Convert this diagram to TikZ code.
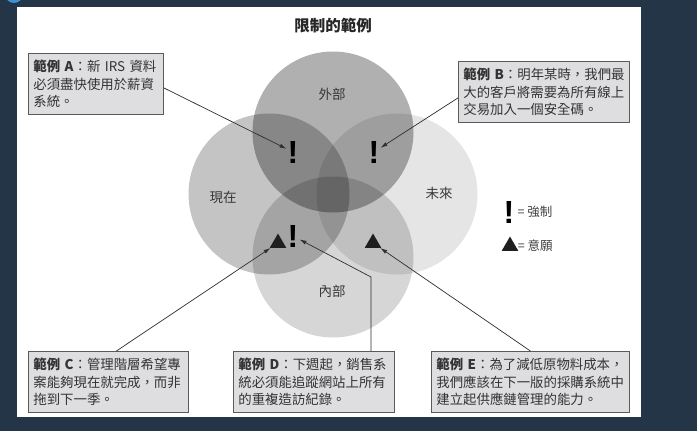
\documentclass[tikz,border=0pt]{standalone}
\usepackage{fontspec}
\setmainfont{Noto Sans CJK TC}
\newfontfamily\markfont{Liberation Sans}
\usetikzlibrary{arrows.meta,positioning,shapes.geometric}
\definecolor{slatebg}{HTML}{243547}
\definecolor{cornerblue}{HTML}{3C8FD2}
\definecolor{boxfill}{HTML}{DEDEE0}
\definecolor{boxline}{HTML}{5A5A5C}
\definecolor{inkgray}{HTML}{2E2E30}
\tikzset{
    region/.style={circle, minimum size=161pt, inner sep=0pt, fill=black},
    regionlabel/.style={font=\fontsize{13.5}{15}\selectfont, text=black!78},
    example/.style={rectangle, draw=boxline, fill=boxfill, line width=0.8pt,
        minimum height=61pt, inner xsep=5pt, align=left, anchor=north west,
        font=\fontsize{13.4}{17.5}\selectfont, text=black!80},
    must/.style={font=\markfont\bfseries\fontsize{32}{32}\selectfont, inner sep=1pt},
    wish/.style={regular polygon, regular polygon sides=3, fill=black!88,
        minimum size=19pt, inner sep=0pt},
    legendtext/.style={font=\fontsize{12.5}{14}\selectfont, text=black!75, inner sep=0pt},
    flow/.style={-{Latex[length=7pt,width=4pt]}, line width=0.7pt, draw=inkgray}
}

\begin{document}
\begin{tikzpicture}[x=1pt,y=-1pt]
        \useasboundingbox (0,0) rectangle (697,431);
        \fill[slatebg] (0,0) rectangle (697,431);
        \fill[cornerblue] (14,-6) circle (9);
        \fill[white] (17,7) rectangle (641,417);
        \node[font=\bfseries\fontsize{15.5}{17}\selectfont, text=black!85] (title) at (333,26) {限制的範例};
        % four overlapping regions
        \node[region, fill opacity=0.31] (outer) at (333,132) {};
        \node[region, fill opacity=0.23] (present) at (269,194) {};
        \node[region, fill opacity=0.10] (future) at (397,194) {};
        \node[region, fill opacity=0.16] (inner) at (333,257) {};
        \node[regionlabel] at (332,94) {外部};
        \node[regionlabel] at (223,197) {現在};
        \node[regionlabel] at (439,193) {未來};
        \node[regionlabel] at (332,291) {內部};
        % marks
        \node[must] (mustA) at (293,152) {!};
        \node[must] (mustB) at (374,152) {!};
        \node[wish] (wishC) at (278,243) {};
        \node[must] (mustD) at (293,236) {!};
        \node[wish] (wishE) at (373,243) {};
        % legend
        \node[must] (legMust) at (509,212) {!};
        \node[legendtext, right=2pt of legMust] {=~強制};
        \node[wish] (legWish) at (510,246) {};
        \node[legendtext, right=2pt of legWish] {=~意願};
        % examples
        \node[example, text width=125pt] (boxA) at (28,53)
            {\textbf{範例~A}：新~IRS~資料\\必須盡快使用於薪資\\系統。};
        \node[example, text width=161pt] (boxB) at (458,61)
            {\textbf{範例~B}：明年某時，我們最\\大的客戶將需要為所有線上\\交易加入一個安全碼。};
        \node[example, text width=150pt] (boxC) at (28,351)
            {\textbf{範例~C}：管理階層希望專\\案能夠現在就完成，而非\\拖到下一季。};
        \node[example, text width=151pt] (boxD) at (233,351)
            {\textbf{範例~D}：下週起，銷售系\\統必須能追蹤網站上所有\\的重複造訪紀錄。};
        \node[example, text width=188pt] (boxE) at (431,351)
            {\textbf{範例~E}：為了減低原物料成本，\\我們應該在下一版的採購系統中\\建立起供應鏈管理的能力。};
        \coordinate (dBend) at (371,277);
        \draw[flow] ([yshift=-4pt]boxA.east) -- (mustA);
        \draw[flow] ([yshift=-6pt]boxB.west) -- (mustB);
        \draw[flow] ([xshift=8pt]boxC.north) -- (wishC);
        \draw[flow] (boxD.north -| dBend) -- (dBend) -- (mustD);
        \draw[flow] (boxE.north) -- (wishE);
    \end{tikzpicture}
\end{document}
